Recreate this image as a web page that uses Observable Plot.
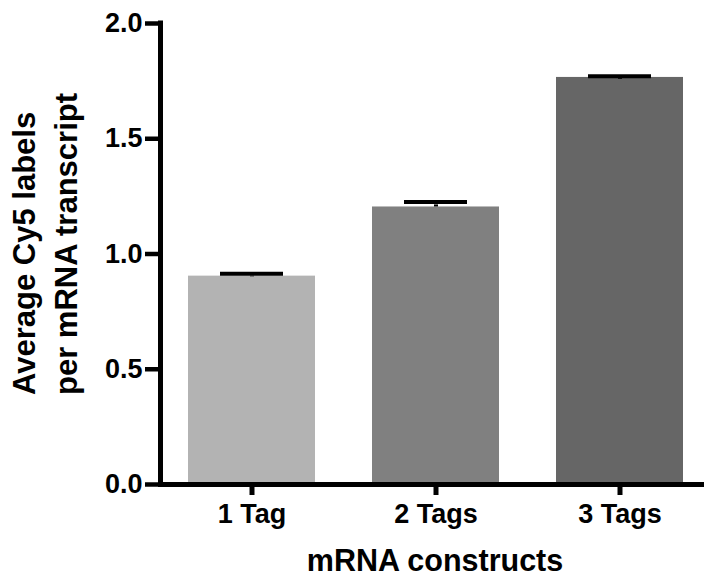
<!DOCTYPE html>
<html><head><meta charset="utf-8">
<script src="https://cdn.jsdelivr.net/npm/d3@7"></script>
<script src="https://cdn.jsdelivr.net/npm/@observablehq/plot@0.6"></script>
<style>body{margin:0;background:#fff}</style>
</head><body><div id="chart"></div>
<script>
const categories = ["1 Tag", "2 Tags", "3 Tags"];
const means = [0.904, 1.204, 1.766];
const sems = [0.010, 0.022, 0.005];
const barColors = ["#b3b3b3", "#808080", "#666666"];
const yTicks = [0, 0.5, 1.0, 1.5, 2.0];
const xTitle = "mRNA constructs";
const yTitleLines = ["Average Cy5 labels", "per mRNA transcript"];

const data = categories.map((c, i) => ({cat: c, mean: means[i], sem: sems[i], color: barColors[i]}));
const W = 704, H = 577, ML = 158, MR = 0, MT = 23, MB = 93;
const FONT = "'Liberation Sans', Arial, Helvetica, sans-serif";

const plot = Plot.plot({
  width: W, height: H,
  marginLeft: ML, marginRight: MR, marginTop: MT, marginBottom: MB,
  style: {fontFamily: FONT, fontSize: "27px", fontWeight: "bold", color: "#000", background: "#fff", overflow: "visible"},
  x: {domain: categories, range: [159, 711], paddingInner: 0.31, paddingOuter: 0.155, label: null},
  y: {domain: [0, 2], label: null},
  color: {type: "identity"},
  marks: [
    Plot.barY(data, {x: "cat", y: "mean", fill: "color"}),
    Plot.ruleX(data, {x: "cat", y1: "mean", y2: d => d.mean + d.sem, stroke: "#000", strokeWidth: 4, insetBottom: -3}),
    Plot.tickY(data, {x: "cat", y: d => d.mean + d.sem, stroke: "#000", strokeWidth: 4, insetLeft: 32, insetRight: 32}),
    Plot.ruleY([0], {stroke: "#000", strokeWidth: 5}),
    Plot.ruleX([0], {x: null, y1: 0, y2: 2, stroke: "#000", strokeWidth: 5, strokeLinecap: "square", dx: 160.5 - ((ML + W - MR) / 2 + 0.5)}),
    Plot.axisY({ticks: yTicks, tickFormat: d3.format(".1f"), tickSize: 13, tickPadding: 3, strokeWidth: 4.5, label: null, fontSize: 27, fontWeight: "bold"}),
    Plot.axisX({tickSize: 11, tickPadding: 8, strokeWidth: 5, label: null, fontSize: 27, fontWeight: "bold"})
  ]
});

const svg = d3.select(plot);
svg.append("text")
  .attr("x", 435).attr("y", 571)
  .attr("text-anchor", "middle")
  .attr("font-family", FONT).attr("font-size", 30.5).attr("font-weight", "bold").attr("fill", "#000")
  .text(xTitle);
const yTitleX = [34.5, 77];
yTitleLines.forEach((t, i) => {
  svg.append("text")
    .attr("transform", `translate(${yTitleX[i]},395) rotate(-90)`)
    .attr("text-anchor", "start")
    .attr("font-family", FONT).attr("font-size", 31).attr("font-weight", "bold").attr("fill", "#000")
    .text(t);
});
document.getElementById("chart").appendChild(plot);
</script>
</body></html>
